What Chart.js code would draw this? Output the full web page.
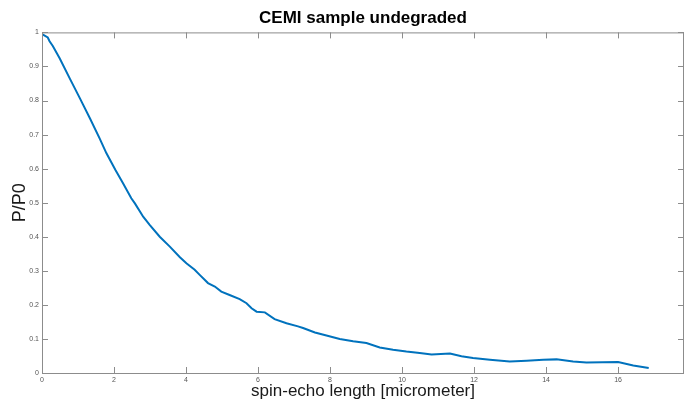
<!DOCTYPE html>
<html lang="en">
<head>
  <meta charset="UTF-8">
  <title>CEMI sample undegraded</title>
  <script src="https://cdn.jsdelivr.net/npm/chart.js"></script>
  <style>
    body {
      margin: 0;
      background: #fff;
    }
    #wrap {
      width: 684px;
      height: 405px;
    }
  </style>
</head>
<body>

<div id="wrap"><canvas id="cvs" width="684" height="405"></canvas></div>

<script>
// spin-echo length [micrometer]
const spinEcho = [0, 0.05, 0.16, 0.21, 0.3, 0.49, 0.77, 1.05, 1.33, 1.6, 1.79, 2.04, 2.25, 2.48, 2.58,
  2.81, 2.99, 3.27, 3.55, 3.83, 4.01, 4.24, 4.38, 4.61, 4.8, 4.98, 5.21, 5.49, 5.68, 5.82, 5.96,
  6.19, 6.46, 6.79, 7.11, 7.25, 7.58, 7.9, 8.27, 8.64, 9.01, 9.38, 9.75, 10.12, 10.49, 10.82,
  11.33, 11.65, 11.97, 12.44, 12.99, 13.46, 13.92, 14.29, 14.75, 15.12, 16.0, 16.42, 16.85];
// P/P0
const ratio = [0.995, 0.992, 0.985, 0.974, 0.96, 0.924, 0.865, 0.807, 0.748, 0.689, 0.645, 0.596, 0.557, 0.513, 0.498,
  0.459, 0.435, 0.4, 0.371, 0.34, 0.322, 0.303, 0.288, 0.264, 0.254, 0.239, 0.229, 0.217, 0.205, 0.19, 0.18,
  0.178, 0.158, 0.146, 0.137, 0.132, 0.119, 0.11, 0.1, 0.093, 0.088, 0.075, 0.068, 0.063, 0.059, 0.054,
  0.057, 0.049, 0.044, 0.039, 0.034, 0.036, 0.039, 0.04, 0.034, 0.031, 0.032, 0.022, 0.015];

const xTicks = [0, 2, 4, 6, 8, 10, 12, 14, 16];
const yTicks = [0, 0.1, 0.2, 0.3, 0.4, 0.5, 0.6, 0.7, 0.8, 0.9, 1];

const axisColor = '#8c8c8c';

// matlab-like box with inward ticks
const boxPlugin = {
  id: 'box',
  afterDraw(chart) {
    const { ctx, chartArea: a, scales } = chart;
    ctx.save();
    ctx.strokeStyle = axisColor;
    ctx.lineWidth = 1;
    ctx.strokeRect(a.left + 0.5, a.top + 0.5, a.right - a.left - 1, a.bottom - a.top);
    ctx.beginPath();
    xTicks.forEach(v => {
      const px = Math.round(scales.x.getPixelForValue(v)) + 0.5;
      ctx.moveTo(px, a.bottom); ctx.lineTo(px, a.bottom - 6);
      ctx.moveTo(px, a.top); ctx.lineTo(px, a.top + 6);
    });
    yTicks.forEach(v => {
      const py = Math.round(scales.y.getPixelForValue(v)) + 0.5;
      ctx.moveTo(a.left, py); ctx.lineTo(a.left + 6, py);
      ctx.moveTo(a.right, py); ctx.lineTo(a.right - 6, py);
    });
    ctx.stroke();
    ctx.restore();
  }
};

new Chart(document.getElementById('cvs'), {
  type: 'line',
  data: {
    datasets: [{
      data: spinEcho.map((x, i) => ({ x, y: ratio[i] })),
      borderColor: '#0072BD',
      borderWidth: 2,
      pointRadius: 0,
      tension: 0,
      fill: false
    }]
  },
  options: {
    responsive: false,
    animation: false,
    layout: { padding: 0 },
    plugins: {
      legend: { display: false },
      tooltip: { enabled: false },
      title: {
        display: true,
        text: 'CEMI sample undegraded',
        fullSize: false,
        color: '#000',
        font: { family: 'Liberation Sans, Arial', size: 17, weight: 'bold', lineHeight: 1.2 },
        padding: { top: 8, bottom: 4 }
      }
    },
    scales: {
      x: {
        type: 'linear',
        min: 0,
        max: 17.83,
        afterBuildTicks: s => { s.ticks = xTicks.map(v => ({ value: v })); },
        afterFit: s => { s.height = 32; },
        grid: { display: false, drawTicks: false, tickLength: 0 },
        border: { display: false },
        ticks: {
          color: '#555',
          padding: 3,
          maxRotation: 0,
          font: { family: 'Liberation Sans, Arial', size: 7 },
          callback: v => String(v)
        },
        title: {
          display: true,
          text: 'spin-echo length [micrometer]',
          color: '#1a1a1a',
          font: { family: 'Liberation Sans, Arial', size: 17 },
          padding: { top: 0, bottom: 3 }
        }
      },
      y: {
        min: 0,
        max: 1,
        afterBuildTicks: s => { s.ticks = yTicks.map(v => ({ value: v })); },
        afterFit: s => { s.width = 42; },
        grid: { display: false, drawTicks: false, tickLength: 0 },
        border: { display: false },
        ticks: {
          color: '#555',
          padding: 3,
          font: { family: 'Liberation Sans, Arial', size: 7 },
          callback: v => String(+v.toFixed(1))
        },
        title: {
          display: true,
          text: 'P/P0',
          color: '#1a1a1a',
          font: { family: 'Liberation Sans, Arial', size: 18 },
          padding: { top: 9, bottom: 0 }
        }
      }
    }
  },
  plugins: [boxPlugin]
});
</script>

</body>
</html>
